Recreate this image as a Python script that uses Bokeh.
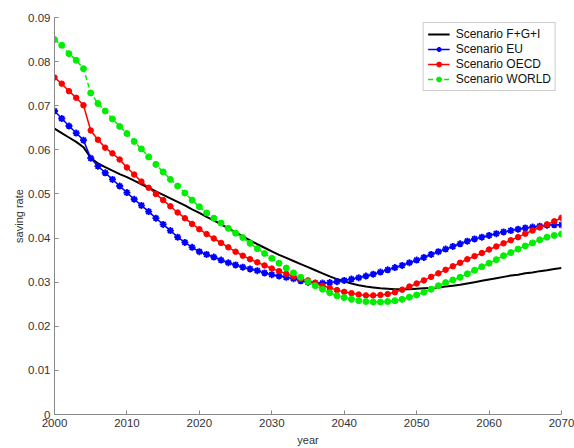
from bokeh.plotting import figure
from bokeh.models import FixedTicker, CustomJSTickFormatter, Range1d, Legend, LegendItem
from bokeh.embed import file_html
from bokeh.resources import INLINE

years = list(range(2000, 2071))

fgi = [0.0648, 0.0638, 0.0628, 0.0618, 0.0606, 0.0582, 0.0569, 0.0561, 0.0553, 0.0545,
       0.0538, 0.0530, 0.0522, 0.0514, 0.0506, 0.0498, 0.0490, 0.0482, 0.0474, 0.0465,
       0.0457, 0.0448, 0.0440, 0.0431, 0.0422, 0.0413, 0.0404, 0.0395, 0.0386, 0.0378,
       0.0370, 0.0362, 0.0355, 0.0348, 0.0341, 0.0334, 0.0327, 0.0320, 0.0313, 0.0307,
       0.0302, 0.0297, 0.0293, 0.0290, 0.0288, 0.0286, 0.0285, 0.0284, 0.0284, 0.0284,
       0.0285, 0.0286, 0.0287, 0.0288, 0.0290, 0.0292, 0.0294, 0.0297, 0.0300, 0.0303,
       0.0306, 0.0309, 0.0312, 0.0315, 0.0317, 0.0320, 0.0322, 0.0325, 0.0327, 0.0330,
       0.0332]

eu = [0.0688, 0.0671, 0.0654, 0.0638, 0.0622, 0.0581, 0.0563, 0.0548, 0.0533, 0.0518,
      0.0503, 0.0488, 0.0474, 0.0460, 0.0445, 0.0431, 0.0417, 0.0402, 0.0390, 0.0379,
      0.0369, 0.0363, 0.0357, 0.0350, 0.0344, 0.0339, 0.0334, 0.0330, 0.0326, 0.0321,
      0.0317, 0.0314, 0.0311, 0.0308, 0.0303, 0.0300, 0.0298, 0.0298, 0.0299, 0.0301,
      0.0304, 0.0307, 0.0310, 0.0314, 0.0318, 0.0323, 0.0328, 0.0333, 0.0338, 0.0344,
      0.0350, 0.0356, 0.0363, 0.0369, 0.0375, 0.0381, 0.0387, 0.0393, 0.0398, 0.0402,
      0.0406, 0.0410, 0.0414, 0.0417, 0.0420, 0.0423, 0.0425, 0.0427, 0.0429, 0.0430,
      0.0430]

oecd = [0.0764, 0.0750, 0.0733, 0.0718, 0.0701, 0.0644, 0.0623, 0.0605, 0.0592, 0.0578,
        0.0560, 0.0544, 0.0528, 0.0514, 0.0500, 0.0486, 0.0472, 0.0458, 0.0445, 0.0432,
        0.0420, 0.0409, 0.0399, 0.0389, 0.0379, 0.0369, 0.0360, 0.0352, 0.0345, 0.0338,
        0.0331, 0.0325, 0.0319, 0.0313, 0.0308, 0.0304, 0.0298, 0.0292, 0.0287, 0.0282,
        0.0278, 0.0275, 0.0272, 0.0270, 0.0270, 0.0271, 0.0273, 0.0277, 0.0283, 0.0290,
        0.0297, 0.0304, 0.0312, 0.0320, 0.0328, 0.0336, 0.0344, 0.0352, 0.0359, 0.0366,
        0.0374, 0.0381, 0.0388, 0.0395, 0.0402, 0.0410, 0.0417, 0.0424, 0.0431, 0.0438,
        0.0446]

world = [0.0850, 0.0837, 0.0818, 0.0803, 0.0784, 0.0729, 0.0705, 0.0688, 0.0670, 0.0653,
         0.0637, 0.0619, 0.0602, 0.0584, 0.0567, 0.0550, 0.0533, 0.0518, 0.0502, 0.0486,
         0.0471, 0.0457, 0.0445, 0.0434, 0.0422, 0.0411, 0.0401, 0.0388, 0.0376, 0.0365,
         0.0354, 0.0343, 0.0332, 0.0321, 0.0311, 0.0301, 0.0292, 0.0284, 0.0276, 0.0269,
         0.0265, 0.0261, 0.0258, 0.0256, 0.0255, 0.0255, 0.0256, 0.0258, 0.0261, 0.0266,
         0.0271, 0.0277, 0.0284, 0.0292, 0.0299, 0.0305, 0.0311, 0.0319, 0.0327, 0.0335,
         0.0343, 0.0351, 0.0360, 0.0367, 0.0375, 0.0382, 0.0389, 0.0396, 0.0402, 0.0406,
         0.0409]

series_names = ["Scenario F+G+I", "Scenario EU", "Scenario OECD", "Scenario WORLD"]
x_ticks = [2000, 2010, 2020, 2030, 2040, 2050, 2060, 2070]
y_ticks = [0, 0.01, 0.02, 0.03, 0.04, 0.05, 0.06, 0.07, 0.08, 0.09]

FONT = "Liberation Sans"

p = figure(width=574, height=448, output_backend="svg", toolbar_location=None,
           x_range=Range1d(2000, 2070), y_range=Range1d(0, 0.09),
           min_border_left=54, min_border_right=13, min_border_top=17, min_border_bottom=33)
p.outline_line_color = None
p.grid.visible = False
p.background_fill_color = "white"
p.border_fill_color = "white"

r_fgi = p.line(years, fgi, line_color="black", line_width=2)
r_eu_l = p.line(years, eu, line_color="#0000ff", line_width=1.5)
r_eu_m = p.scatter(years, eu, marker="asterisk", size=7, line_color="#0000ff", line_width=1.8)
r_oe_l = p.line(years, oecd, line_color="#ff0000", line_width=1.5)
r_oe_m = p.scatter(years, oecd, marker="circle", size=5.5, line_color="#ff0000", fill_color="#ff0000")
r_wo_l = p.line(years, world, line_color="#00ee00", line_width=1.5, line_dash="5 3")
r_wo_m = p.scatter(years, world, marker="circle", size=6, line_color="#00ee00", fill_color="#00ee00")

legend = Legend(items=[
    LegendItem(label=series_names[0], renderers=[r_fgi]),
    LegendItem(label=series_names[1], renderers=[r_eu_l, r_eu_m]),
    LegendItem(label=series_names[2], renderers=[r_oe_l, r_oe_m]),
    LegendItem(label=series_names[3], renderers=[r_wo_l, r_wo_m]),
], location="top_right")
legend.margin = 5
legend.padding = 4
legend.spacing = 1
legend.label_height = 12
legend.glyph_height = 12
legend.glyph_width = 22
legend.label_standoff = 6
legend.label_text_font = FONT
legend.label_text_font_size = "12px"
legend.label_text_color = "#111111"
legend.border_line_color = "#999999"
legend.border_line_width = 1
legend.background_fill_alpha = 1
p.add_layout(legend)

for ax in (p.xaxis[0], p.yaxis[0]):
    ax.axis_line_color = "#888888"
    ax.major_tick_line_color = "#888888"
    ax.major_tick_in = 4
    ax.major_tick_out = 0
    ax.minor_tick_line_color = None
    ax.major_label_text_font = FONT
    ax.major_label_text_font_size = "11.5px"
    ax.major_label_text_color = "#333333"
    ax.axis_label_text_font = FONT
    ax.axis_label_text_font_size = "11px"
    ax.axis_label_text_font_style = "normal"
    ax.axis_label_text_color = "#333333"
    ax.major_label_standoff = 4

p.xaxis[0].ticker = FixedTicker(ticks=x_ticks)
p.yaxis[0].ticker = FixedTicker(ticks=y_ticks)
p.yaxis[0].formatter = CustomJSTickFormatter(code="return tick == 0 ? '0' : tick.toFixed(2);")
p.xaxis[0].axis_label = "year"
p.yaxis[0].axis_label = "saving rate"
p.xaxis[0].axis_label_standoff = 4
p.yaxis[0].axis_label_standoff = 0

open("out.html", "w").write(file_html(p, INLINE))
